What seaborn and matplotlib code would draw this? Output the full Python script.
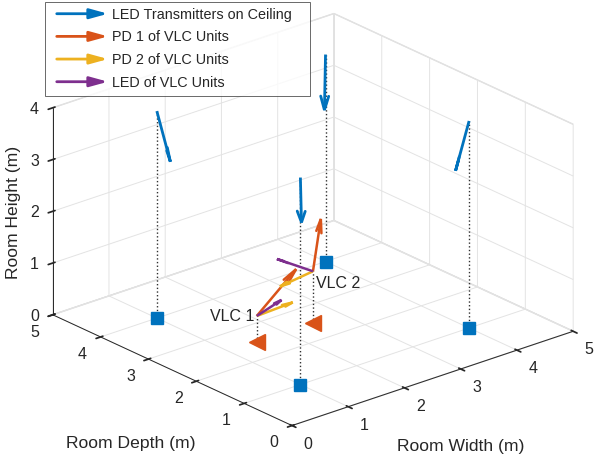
import numpy as np
import matplotlib
matplotlib.use('Agg')
import matplotlib.pyplot as plt
import seaborn as sns
from matplotlib.patches import FancyArrowPatch
from matplotlib.legend_handler import HandlerPatch

# LED transmitters on the ceiling (position and pointing direction)
led_x = [1, 1, 4, 4]
led_y = [1, 4, 1, 4]
led_z = [4, 4, 4, 4]
led_u = [0.13, 0.13, -0.13, -0.13]
led_v = [0.13, -0.13, 0.13, -0.13]
led_w = [-0.97, -0.97, -0.97, -0.97]

# VLC units
vlc_names = ['VLC 1', 'VLC 2']
vlc_x = [1.5, 2.5]
vlc_y = [2.5, 2.5]
vlc_z = [0.5, 1.0]
pd1_u = [0.70, 0.14]
pd1_v = [0.0, 0.0]
pd1_w = [0.65, 0.96]
pd2_u = [0.64, -0.585]
pd2_v = [0.0, 0.0]
pd2_w = [0.03, -0.08]
vled_u = [0.44, -0.64]
vled_v = [0.0, 0.0]
vled_w = [0.15, 0.47]

x_ticks = [0, 1, 2, 3, 4, 5]
y_ticks = [0, 1, 2, 3, 4, 5]
z_ticks = [0, 1, 2, 3, 4]

legend_labels = ['LED Transmitters on Ceiling', 'PD 1 of VLC Units', 'PD 2 of VLC Units', 'LED of VLC Units']
colors = ['#0072BD', '#D95319', '#EDB120', '#7E2F8E']

sns.set_theme(style='white')
plt.rcParams['font.family'] = ['Liberation Sans', 'DejaVu Sans']
plt.rcParams['text.color'] = '#262626'


def draw_arrows(ax, x, y, z, u, v, w, color, lw, zorder, alpha=0.25, beta=0.22):
    # quiver3-like arrows: head spread in the horizontal plane
    for x0, y0, z0, du, dv, dw in zip(x, y, z, u, v, w):
        tip = np.array([x0 + du, y0 + dv, z0 + dw])
        ax.plot([x0, tip[0]], [y0, tip[1]], [z0, tip[2]], color=color, lw=lw, zorder=zorder,
                solid_capstyle='butt')
        b = beta * np.sqrt(du**2 + dv**2 + dw**2) / (np.hypot(du, dv) + 1e-12)
        p1 = tip - alpha * np.array([du + b * dv, dv - b * du, dw])
        p2 = tip - alpha * np.array([du - b * dv, dv + b * du, dw])
        ax.plot([p1[0], tip[0], p2[0]], [p1[1], tip[1], p2[1]], [p1[2], tip[2], p2[2]],
                color=color, lw=lw, zorder=zorder, solid_joinstyle='miter')


fig = plt.figure(figsize=(5.95, 4.59), dpi=100)
S = 552  # square axes size in pixels
cx, cy = 305.5, 232
ax = fig.add_axes([(cx - S / 2) / 595, (cy - S / 2) / 459, S / 595, S / 459], projection='3d')
ax.computed_zorder = False
ax.set_proj_type('ortho')
ax.view_init(elev=23.2, azim=-130.4)
ax.set_box_aspect((1, 1, 0.61))

# dotted drop lines
for x, y, z in zip(led_x, led_y, led_z):
    ax.plot([x, x], [y, y], [0, z], ls=':', color='#303030', lw=1.0, zorder=2)
for x, y, z in zip(vlc_x, vlc_y, vlc_z):
    ax.plot([x, x], [y, y], [0, z], ls=':', color='#303030', lw=1.0, zorder=2)

# floor markers
ax.plot(led_x, led_y, [0] * len(led_x), ls='none', marker='s', ms=8.5, color=colors[0], zorder=3)
ax.plot(vlc_x, vlc_y, [0] * len(vlc_x), ls='none', marker='<', ms=11, color=colors[1], zorder=3)

# arrows
draw_arrows(ax, led_x, led_y, led_z, led_u, led_v, led_w, colors[0], 2.0, 4)
draw_arrows(ax, vlc_x, vlc_y, vlc_z, pd1_u, pd1_v, pd1_w, colors[1], 1.8, 5)
draw_arrows(ax, vlc_x, vlc_y, vlc_z, pd2_u, pd2_v, pd2_w, colors[2], 1.8, 5)
draw_arrows(ax, vlc_x, vlc_y, vlc_z, vled_u, vled_v, vled_w, colors[3], 1.8, 5)

ax.text(vlc_x[0] - 0.05, vlc_y[0], vlc_z[0], vlc_names[0], ha='right', va='center', fontsize=11.5, zorder=6)
ax.text(vlc_x[1] + 0.05, vlc_y[1], vlc_z[1] - 0.25, vlc_names[1], ha='left', va='center', fontsize=11.5, zorder=6)

ax.set_xlim(0, 5)
ax.set_ylim(0, 5)
ax.set_zlim(0, 4)
ax.set_xticks(x_ticks)
ax.set_yticks(y_ticks)
ax.set_zticks(z_ticks)
for axis in (ax.xaxis, ax.yaxis, ax.zaxis):
    axis.set_tick_params(label1On=False, label2On=False)
    axis.label.set_visible(False)
    axis.get_offset_text().set_visible(False)
    axis.set_pane_color((1, 1, 1, 1))
    axis.pane.set_edgecolor('#dcdcdc')
    axis._axinfo['grid'].update(color='#e3e3e3', linewidth=0.7)
    axis._axinfo['tick'].update(color='#262626')
    axis.line.set_color('#262626')
    axis.line.set_linewidth(0.7)
ax.tick_params(colors='#262626')
ax.grid(True)

# tick labels placed beside the axes the MATLAB way
for t in x_ticks:
    ax.text(t, -0.33, -0.19, str(t), ha='center', va='center_baseline', fontsize=11.5)
for t in y_ticks:
    ax.text(-0.32, t, -0.19, str(t), ha='center', va='center_baseline', fontsize=11.5)
for t in z_ticks:
    ax.text(-0.19, 5.16, t, str(t), ha='center', va='center_baseline', fontsize=11.5)

# axis titles
fig.text(130.5 / 595, 1 - 448 / 459, 'Room Depth (m)', ha='center', va='baseline', fontsize=12.6)
fig.text(460.5 / 595, 1 - 451 / 459, 'Room Width (m)', ha='center', va='baseline', fontsize=12.6)
fig.text(14 / 595, 1 - 212 / 459, 'Room Height (m)', ha='center', va='center', rotation=90, fontsize=12.6)


def arrow_handle(legend, orig_handle, xdescent, ydescent, width, height, fontsize):
    return FancyArrowPatch((4.3 - xdescent, height / 2 - ydescent), (width - xdescent, height / 2 - ydescent),
                           arrowstyle='-|>,head_length=1.2,head_width=0.33', mutation_scale=9,
                           shrinkA=0, shrinkB=0)


handles = [FancyArrowPatch((0, 0), (1, 0), color=c, lw=2.0) for c in colors]
leg = fig.legend(handles, legend_labels, loc='upper left', mode='expand',
                 bbox_to_anchor=(45 / 595, 0, 265 / 595, 1 - 2 / 459),
                 bbox_transform=fig.transFigure, borderaxespad=0, borderpad=0.4, fontsize=10.4,
                 frameon=True, fancybox=False, handlelength=3.96, handletextpad=0.28, labelspacing=0.6,
                 handler_map={FancyArrowPatch: HandlerPatch(patch_func=arrow_handle)})
leg.get_frame().set_edgecolor('#262626')
leg.get_frame().set_linewidth(0.6)

fig.savefig('out.png', dpi=100)
